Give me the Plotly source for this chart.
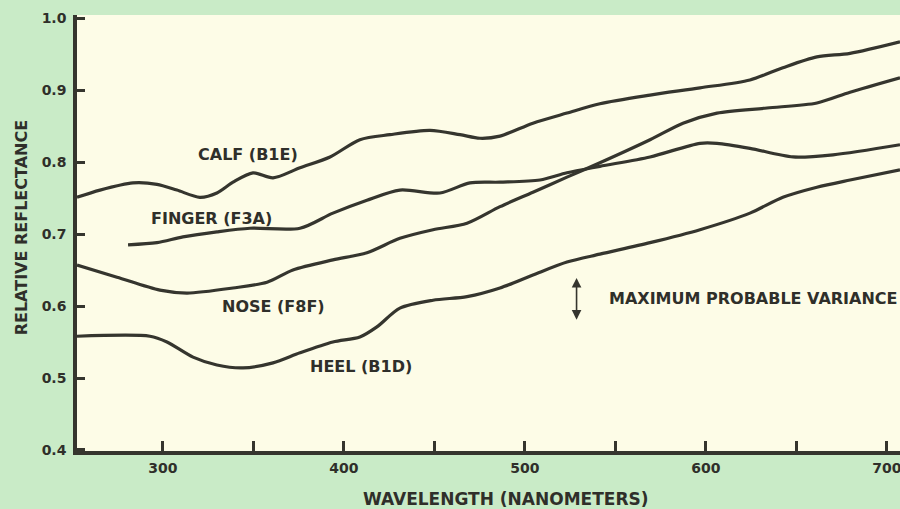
import plotly.graph_objects as go

# Relative reflectance of skin sites versus wavelength (nm)
calf_wl = [252.5, 265.2, 283.4, 296.7, 307.7, 320.4, 329.8, 338.7, 349.7, 360.8,
           375.7, 392.3, 408.8, 425.4, 447.5, 464.1, 475.1, 486.2, 504.4, 523.2,
           541.4, 569.1, 596.7, 624.3, 642.5, 661.3, 679.6, 707.2]
calf_r = [0.751, 0.761, 0.771, 0.769, 0.761, 0.751, 0.757, 0.772, 0.785, 0.778,
          0.792, 0.807, 0.831, 0.838, 0.844, 0.838, 0.833, 0.836, 0.854, 0.868,
          0.881, 0.893, 0.903, 0.914, 0.931, 0.946, 0.951, 0.967]

finger_wl = [280.7, 296.7, 311.0, 329.8, 348.1, 375.7, 393.9, 412.7, 430.9, 453.0,
             469.6, 486.2, 508.3, 523.2, 541.4, 569.1, 596.7, 606.1, 624.3, 648.1,
             670.2, 707.2]
finger_r = [0.685, 0.688, 0.696, 0.703, 0.708, 0.708, 0.729, 0.747, 0.761, 0.757,
            0.771, 0.772, 0.775, 0.785, 0.794, 0.807, 0.826, 0.826, 0.819, 0.807,
            0.810, 0.824]

nose_wl = [252.5, 274.6, 298.3, 313.3, 338.7, 357.5, 371.8, 393.9, 412.7, 430.9,
           449.2, 468.0, 486.2, 504.4, 523.2, 541.4, 569.1, 587.3, 606.1, 633.7,
           661.3, 679.6, 707.2]
nose_r = [0.657, 0.640, 0.622, 0.618, 0.625, 0.633, 0.650, 0.664, 0.674, 0.694,
          0.706, 0.715, 0.738, 0.758, 0.779, 0.799, 0.831, 0.854, 0.868, 0.875,
          0.882, 0.897, 0.917]

heel_wl = [252.5, 292.8, 302.2, 316.6, 329.8, 344.2, 360.8, 375.7, 393.9, 408.8,
           418.2, 430.9, 449.2, 468.0, 486.2, 504.4, 523.2, 541.4, 569.1, 596.7,
           624.3, 642.5, 661.3, 679.6, 707.2]
heel_r = [0.558, 0.558, 0.550, 0.529, 0.518, 0.514, 0.521, 0.535, 0.550, 0.557,
          0.571, 0.597, 0.608, 0.613, 0.625, 0.643, 0.661, 0.672, 0.688, 0.706,
          0.729, 0.751, 0.765, 0.775, 0.789]

x_tickvals = [300, 350, 400, 450, 500, 550, 600, 650, 700]
x_ticktext = ["300", "", "400", "", "500", "", "600", "", "700"]
y_tickvals = [0.4, 0.5, 0.6, 0.7, 0.8, 0.9, 1.0]

# curve labels: (text, wavelength, reflectance, anchor)
labels = [
    ("CALF (B1E)", 346.7, 0.810, "center"),
    ("FINGER (F3A)", 326.9, 0.721, "center"),
    ("NOSE (F8F)", 360.8, 0.599, "center"),
    ("HEEL (B1D)", 409.3, 0.516, "center"),
    ("MAXIMUM PROBABLE VARIANCE", 545.3, 0.611, "left"),
]
variance_wl = 528.5
variance_lo, variance_hi = 0.581, 0.641

INK = "#35352e"
TEXT = "#2f2f2a"
FONT = "DejaVu Sans"

fig = go.Figure()
for wl, r in [(calf_wl, calf_r), (finger_wl, finger_r), (nose_wl, nose_r), (heel_wl, heel_r)]:
    fig.add_trace(go.Scatter(
        x=wl, y=r, mode="lines",
        line=dict(color=INK, width=3.2, shape="spline", smoothing=0.8),
        showlegend=False, hoverinfo="skip",
    ))

for text, wl, r, anchor in labels:
    fig.add_annotation(
        x=wl, y=r, xref="x", yref="y", text=text, showarrow=False,
        xanchor=anchor, yanchor="middle",
        font=dict(family=FONT, size=16, color=TEXT, weight="bold"),
    )

# double-headed variance marker
fig.add_annotation(
    x=variance_wl, y=variance_lo, ax=variance_wl, ay=variance_hi,
    xref="x", yref="y", axref="x", ayref="y", text="",
    showarrow=True, arrowhead=2, arrowside="end+start",
    arrowsize=1.2, arrowwidth=1.6, arrowcolor=INK,
)

# axis titles
fig.add_annotation(
    x=-0.068, y=0.513, xref="paper", yref="paper", text="RELATIVE REFLECTANCE",
    textangle=-90, showarrow=False, xanchor="center", yanchor="middle",
    font=dict(family=FONT, size=16, color=TEXT, weight="bold"),
)
fig.add_annotation(
    x=0.521, y=-0.110, xref="paper", yref="paper", text="WAVELENGTH (NANOMETERS)",
    showarrow=False, xanchor="center", yanchor="middle",
    font=dict(family=FONT, size=17, color=TEXT, weight="bold"),
)

fig.update_xaxes(
    range=[252.5, 707.2], tickvals=x_tickvals, ticktext=x_ticktext,
    ticks="inside", ticklen=10, tickwidth=2.5, tickcolor=INK,
    showline=True, linecolor=INK, linewidth=3.5, showgrid=False, zeroline=False,
    tickfont=dict(family=FONT, size=14, color=TEXT, weight="bold"),
    ticklabelstandoff=1, ticklabeloverflow="allow", automargin=False,
)
fig.update_yaxes(
    range=[0.3986, 1.0042], tickvals=y_tickvals, tickformat=".1f",
    ticks="inside", ticklen=8, tickwidth=2.5, tickcolor=INK,
    showline=True, linecolor=INK, linewidth=3.5, showgrid=False, zeroline=False,
    tickfont=dict(family=FONT, size=14, color=TEXT, weight="bold"),
    ticklabelstandoff=4, automargin=False,
)

fig.update_layout(
    width=900, height=509,
    margin=dict(l=77, r=0, t=15, b=58, pad=0),
    paper_bgcolor="#c9ebc7",
    plot_bgcolor="#fdfce7",
)

fig.write_html("out.html")
